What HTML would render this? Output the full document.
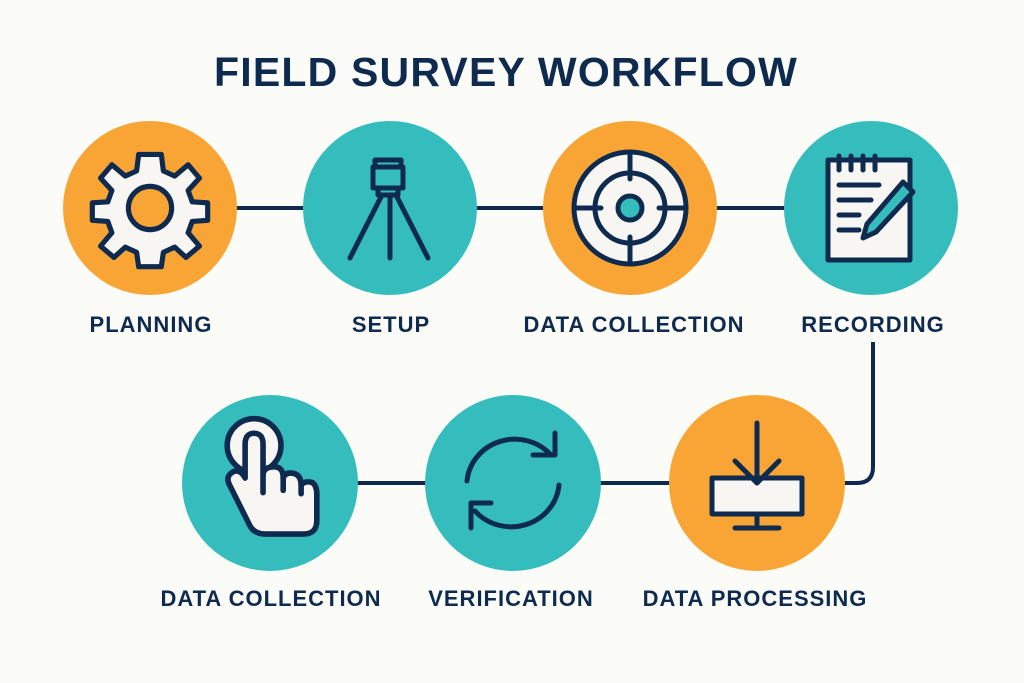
<!DOCTYPE html>
<html><head><meta charset="utf-8"><style>
html,body{margin:0;padding:0;background:#fbfbf8;}
svg{display:block}
text{font-family:"Liberation Sans",sans-serif;font-weight:bold;fill:#0f2a4f;text-anchor:middle}
</style></head><body>
<svg width="1024" height="683" viewBox="0 0 1024 683">
<rect width="1024" height="683" fill="#fbfbf8"/>
<text x="506" y="86" font-size="41" letter-spacing="1.2">FIELD SURVEY WORKFLOW</text>
<g stroke="#0f2a4f" stroke-width="4" fill="none">
<line x1="150" y1="208" x2="871" y2="208"/>
<line x1="270" y1="483" x2="757" y2="483"/>
<path d="M873 342 V467 Q873 483 857 483 H757"/>
</g>
<circle cx="150" cy="208" r="87" fill="#f9a535"/>
<circle cx="390" cy="208" r="87" fill="#35bdbd"/>
<circle cx="630" cy="208" r="87" fill="#f9a535"/>
<circle cx="871" cy="208" r="87" fill="#35bdbd"/>
<circle cx="270" cy="483" r="88" fill="#35bdbd"/>
<circle cx="513" cy="483" r="88" fill="#35bdbd"/>
<circle cx="757" cy="483" r="88" fill="#f9a535"/>
<g stroke="#0f2a4f" stroke-width="5" stroke-linejoin="round" stroke-linecap="round">
<g transform="translate(150,208) scale(1.03)">
<path fill="#f8f6f2" d="M-11,-52 H11 L13,-36 L24,-31 L37,-42 L48,-29 L37,-17 L41,-6 L56,-5 V12 L41,13 L37,24 L48,37 L35,48 L24,38 L13,43 L11,57 H-11 L-13,43 L-24,38 L-35,48 L-48,37 L-37,24 L-41,13 L-56,12 V-5 L-41,-6 L-37,-17 L-48,-29 L-37,-42 L-24,-31 L-13,-36 Z"/>
<circle r="21" fill="#f9a535"/>
</g>
<g transform="translate(390,208)" fill="none">
<rect x="-15" y="-48" width="26" height="7"/>
<rect x="-17" y="-41" width="30" height="21"/>
<rect x="-12" y="-20" width="20" height="7"/>
<line x1="-8" y1="-13" x2="-40" y2="50"/>
<line x1="0" y1="-13" x2="0" y2="50"/>
<line x1="6" y1="-13" x2="38" y2="50"/>
</g>
<g transform="translate(630,208)">
<circle r="56" fill="#f8f6f2"/>
<circle r="35" fill="none"/>
<circle r="12" fill="#35bdbd"/>
<line x1="0" y1="-56" x2="0" y2="-29"/><line x1="0" y1="29" x2="0" y2="56"/>
<line x1="-56" y1="0" x2="-29" y2="0"/><line x1="29" y1="0" x2="56" y2="0"/>
</g>
<g transform="translate(871,208)">
<rect x="-43" y="-48" width="82" height="100" fill="#f8f6f2"/>
<line x1="-32" y1="-52" x2="-32" y2="-38"/><line x1="-20" y1="-52" x2="-20" y2="-38"/><line x1="-8" y1="-52" x2="-8" y2="-38"/><line x1="4" y1="-52" x2="4" y2="-38"/>
<line x1="-32" y1="-23" x2="8" y2="-23"/><line x1="-32" y1="-8" x2="0" y2="-8"/><line x1="-32" y1="7" x2="-12" y2="7"/><line x1="-32" y1="22" x2="-12" y2="22"/>
<path d="M32,-26 L42,-16 L5,24 L-8,30 L-4,16 Z" fill="#35bdbd"/>
</g>
<g transform="translate(272,487) scale(1.12)">
<circle cx="-16" cy="-37" r="24" fill="#f8f6f2"/>
<path fill="#f8f6f2" d="M-24,-38 Q-24,-48 -16,-48 Q-8,-48 -8,-38 V-10 Q-8,-18 2,-18 Q10,-18 10,-8 Q12,-14 20,-12 Q26,-10 26,-2 Q30,-6 36,-4 Q40,-1 40,6 V30 Q40,42 28,42 H-6 Q-16,42 -20,34 L-38,-2 Q-42,-10 -34,-14 Q-28,-16 -24,-8 Z"/>
<line x1="-8" y1="-10" x2="-8" y2="5"/><line x1="10" y1="-8" x2="10" y2="3"/><line x1="26" y1="-2" x2="26" y2="6"/>
</g>
<g transform="translate(513,483)" fill="none">
<path d="M-46,-2 A48,46 0 0 1 38,-28"/>
<path d="M20,-28 H42 V-50"/>
<path d="M46,2 A48,46 0 0 1 -38,28"/>
<path d="M-22,20 H-42 V45"/>
</g>
<g transform="translate(757,483)">
<rect x="-45" y="-5" width="90" height="36" fill="#f8f6f2"/>
<line x1="0" y1="31" x2="0" y2="45"/><line x1="-22" y1="45" x2="22" y2="45"/>
<line x1="0" y1="-60" x2="0" y2="0"/><path d="M-22,-22 L0,0 L22,-22" fill="none"/>
</g>
</g>
<g font-size="22" letter-spacing="1">
<text x="151" y="332">PLANNING</text>
<text x="391" y="332">SETUP</text>
<text x="634" y="332">DATA COLLECTION</text>
<text x="873" y="332">RECORDING</text>
<text x="271" y="606">DATA COLLECTION</text>
<text x="511" y="606">VERIFICATION</text>
<text x="755" y="606">DATA PROCESSING</text>
</g>
</svg>
</body></html>
